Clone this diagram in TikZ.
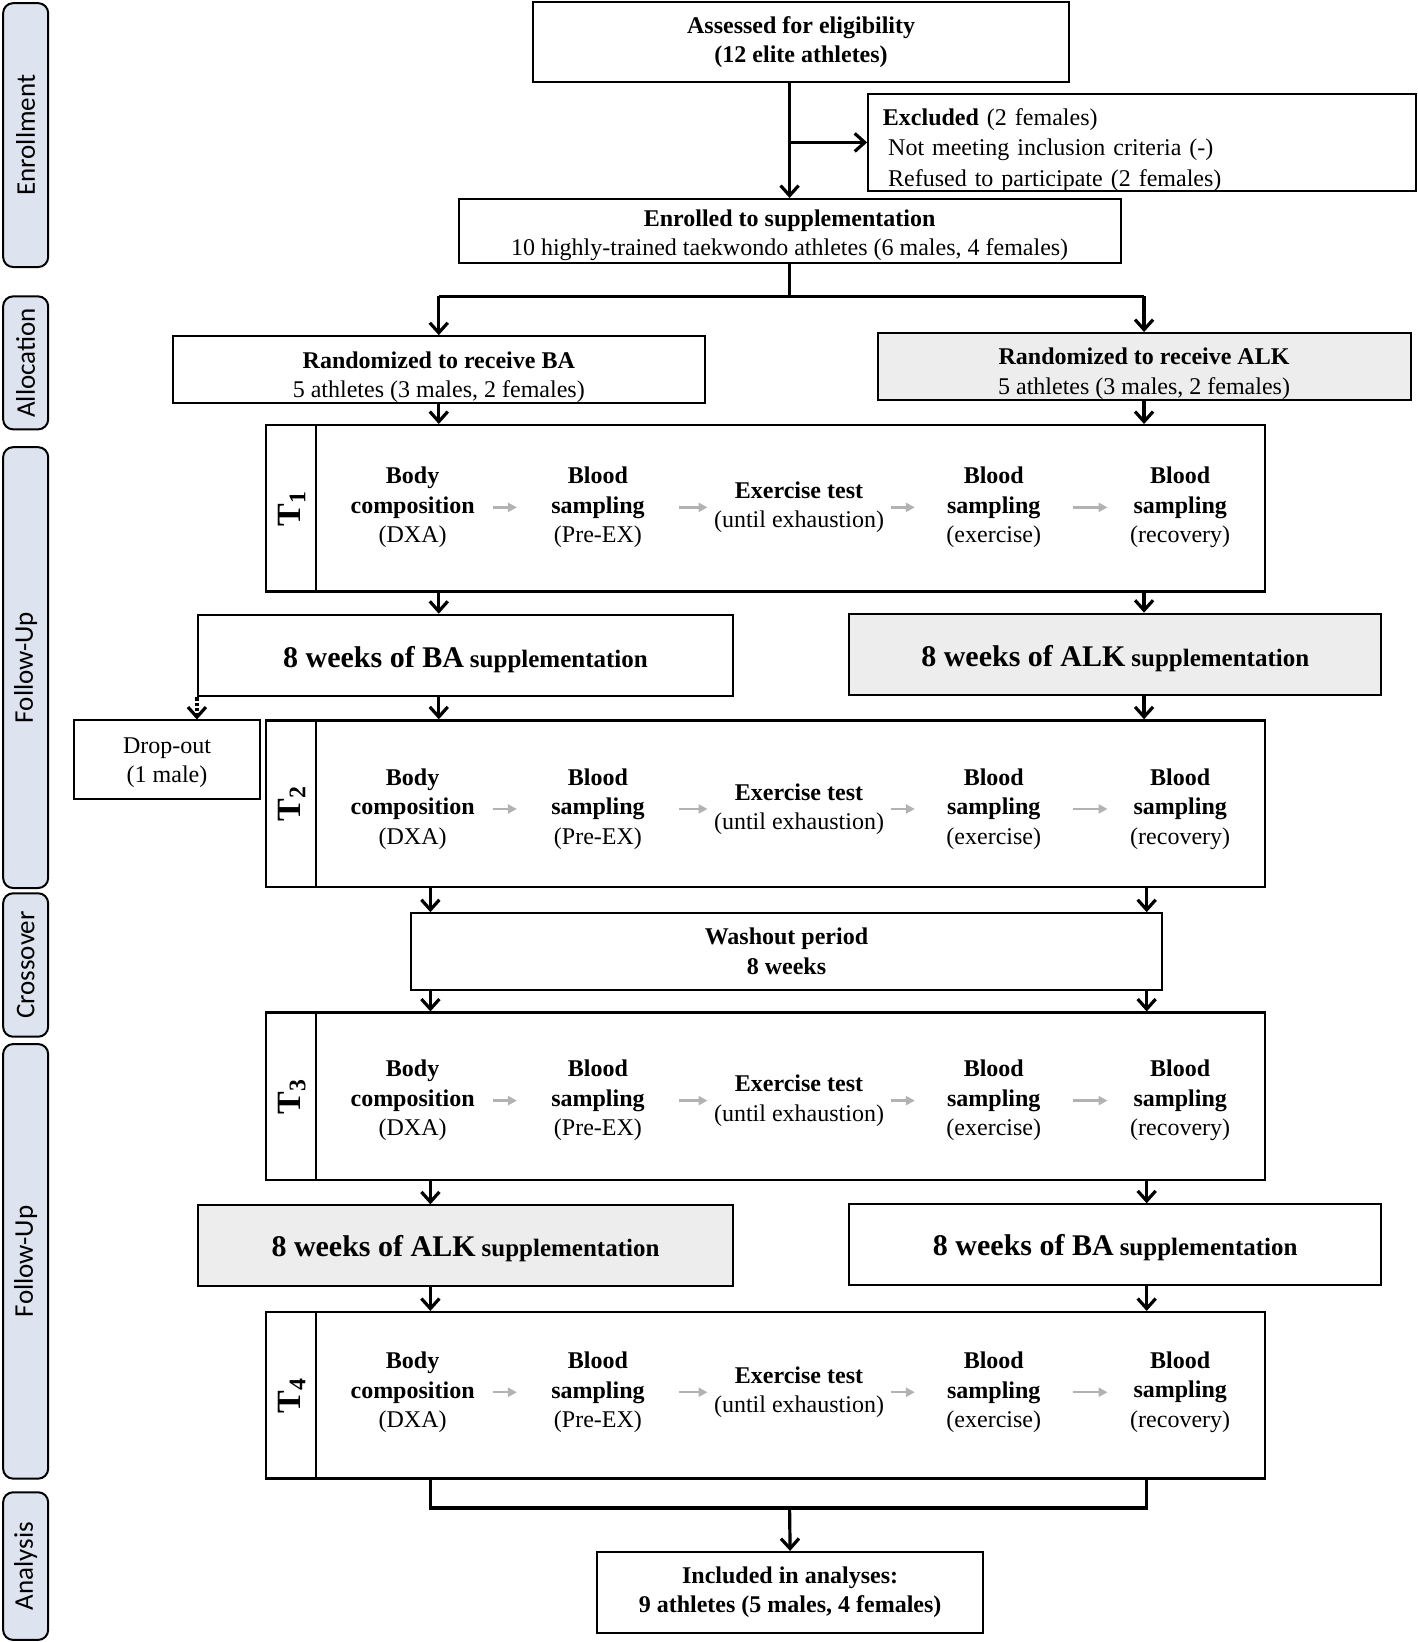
\documentclass[tikz,border=0pt]{standalone}
\usepackage{fontspec}
\setmainfont{Liberation Serif}
\newfontfamily\phasefont{Carlito}
\usetikzlibrary{arrows.meta,calc}
\definecolor{phaseblue}{RGB}{221,228,239}
\definecolor{boxgray}{RGB}{237,237,237}
\newcommand\pxu{0.5236pt}
\newcommand\weeks[1]{{\fontsize{15}{18}\selectfont\bfseries 8 weeks of #1} {\bfseries\fontsize{12.5}{15}\selectfont supplementation}}
\tikzset{
  box/.style={draw,line width=1pt,fill=white,align=center,inner sep=2pt},
  graybox/.style={box,fill=boxgray},
  wd/.style={minimum width=#1*\pxu},
  ht/.style={minimum height=#1*\pxu},
  phase/.style={draw,line width=1pt,fill=phaseblue,rounded corners=5pt,rotate=90,minimum height=43*\pxu,inner sep=0pt,font=\phasefont\fontsize{13.5}{16}\selectfont},
  tbox/.style={draw,line width=1.2pt,wd=954},
  arr/.style={line width=1.6pt,-{Straight Barb[length=5pt,width=9pt]}},
  link/.style={line width=1.6pt},
  grayarr/.style={draw=black!30,line width=1.2pt,-{Triangle[length=4.5pt,width=4.5pt]}}
}
\begin{document}
\begin{tikzpicture}[x=\pxu,y=-\pxu,font=\fontsize{12}{14.7}\selectfont]
\useasboundingbox (0,0) rectangle (1354,1568);
\node[phase,wd=252] (enroll) at (24.5,129) {Enrollment};
\node[phase,wd=127] (alloc) at (24.5,346.5) {Allocation};
\node[phase,wd=421] (follow1) at (24.5,637.5) {Follow-Up};
\node[phase,wd=137] (cross) at (24.5,921.5) {Crossover};
\node[phase,wd=415] (follow2) at (24.5,1204.5) {Follow-Up};
\node[phase,wd=141] (anal) at (24.5,1495.5) {Analysis};

\node[box,wd=512,ht=76] (assess) at (765,40) {\textbf{Assessed for eligibility}\\\textbf{(12 elite athletes)}};
\node[box,wd=523,ht=92] (excl) at (1090.5,136) {};
\node[text width=259pt,align=left,font=\fontsize{12}{15.2}\selectfont] (excltxt) at ($(excl)+(0,7)$)
  {\textbf{Excluded} (2 females)\\\hspace*{2.6pt}Not meeting inclusion criteria (-)\\\hspace*{2.6pt}Refused to participate (2 females)};
\node[box,wd=632,ht=61] (enrol) at (754,220.5) {};
\node[align=center] (enroltxt) at ($(enrol)+(0,4)$) {\textbf{Enrolled to supplementation}\\10 highly-trained taekwondo athletes (6 males, 4 females)};
\node[box,wd=508,ht=64] (rba) at (419,353) {};
\node[align=center] (rbatxt) at ($(rba)+(0,7)$) {\textbf{Randomized to receive BA}\\5 athletes (3 males, 2 females)};
\node[graybox,wd=509,ht=64] (ralk) at (1092.5,350) {};
\node[align=center] (ralktxt) at ($(ralk)+(0,7)$) {\textbf{Randomized to receive ALK}\\5 athletes (3 males, 2 females)};
\node[box,wd=511,ht=78] (w1ba) at (444.5,626) {};
\node (w1batxt) at ($(w1ba)+(0,4)$) {\weeks{BA}};
\node[graybox,wd=508,ht=78] (w1alk) at (1065,625) {};
\node (w1alktxt) at ($(w1alk)+(0,4)$) {\weeks{ALK}};
\node[box,wd=177,ht=75] (drop) at (159.5,725.5) {};
\node[align=center] (droptxt) at ($(drop)+(0,3)$) {Drop-out\\(1 male)};
\node[box,wd=718,ht=73] (wash) at (751,908.5) {\textbf{Washout period}\\\textbf{8 weeks}};
\node[graybox,wd=511,ht=77] (w2alk) at (444.5,1189.5) {};
\node (w2alktxt) at ($(w2alk)+(0,3)$) {\weeks{ALK}};
\node[box,wd=508,ht=77] (w2ba) at (1065,1188.5) {};
\node (w2batxt) at ($(w2ba)+(0,3)$) {\weeks{BA}};
\node[box,wd=369,ht=77] (incl) at (754.5,1520.5) {\textbf{Included in analyses:}\\\textbf{9 athletes (5 males, 4 females)}};

\foreach \i/\y/\h/\ty in {1/485.5/159/484.5,2/767.5/159/772.5,3/1047/160/1051,4/1332.5/159/1329.5}{
  \node[tbox,ht=\h] (t\i) at (731,\y) {};
  \draw[line width=1.2pt] ($(t\i.north west)+(49,0)$) -- ($(t\i.south west)+(49,0)$);
  \node[rotate=90,font=\fontsize{17}{18}\selectfont\bfseries] (tl\i) at (278.5,\y) {T\textsubscript{\i}};
  \foreach \j/\x/\w/\txt in {1/394/152/{\textbf{Body}\\\textbf{composition}\\(DXA)},
      2/571/154/{\textbf{Blood}\\\textbf{sampling}\\(Pre-EX)},
      3/763/174/{\textbf{Exercise test}\\(until exhaustion)},
      4/949/150/{\textbf{Blood}\\\textbf{sampling}\\(exercise)},
      5/1127/138/{\textbf{Blood}\\\textbf{sampling}\\(recovery)}}
    \node[align=center,wd=\w,inner sep=0pt] (c\i\j) at (\x,\ty) {\txt};
  \foreach \j/\k in {1/2,2/3,3/4,4/5} \draw[grayarr] (c\i\j.east) -- (c\i\k.west);
}

\coordinate (L) at (411,0);
\coordinate (R) at (1095,0);
\coordinate (split) at (754,283);
\coordinate (join) at (754,1440);
\coordinate (branch) at (assess.south -| enrol.north);

\draw[arr] (branch) -- (enrol.north);
\draw[arr] (branch |- excl.west) -- (excl.west);
\draw[link] (enrol.south) -- (split);
\draw[link] (split -| rba.north) -- (split -| ralk.north);
\draw[arr] (split -| rba.north) -- (rba.north);
\draw[arr] (split -| ralk.north) -- (ralk.north);
\draw[arr] (rba.south) -- (rba.south |- t1.north);
\draw[arr] (ralk.south) -- (ralk.south |- t1.north);
\draw[arr] (rba.south |- t1.south) -- (rba.south |- w1ba.north);
\draw[arr] (ralk.south |- t1.south) -- (ralk.south |- w1alk.north);
\draw[arr] (rba.south |- w1ba.south) -- (rba.south |- t2.north);
\draw[arr] (ralk.south |- w1alk.south) -- (ralk.south |- t2.north);
\draw[arr,densely dotted] (w1ba.south west) -- (w1ba.south west |- drop.north);
\draw[arr] (t2.south -| L) -- (wash.north -| L);
\draw[arr] (t2.south -| R) -- (wash.north -| R);
\draw[arr] (wash.south -| L) -- (t3.north -| L);
\draw[arr] (wash.south -| R) -- (t3.north -| R);
\draw[arr] (t3.south -| L) -- (w2alk.north -| L);
\draw[arr] (t3.south -| R) -- (w2ba.north -| R);
\draw[arr] (w2alk.south -| L) -- (t4.north -| L);
\draw[arr] (w2ba.south -| R) -- (t4.north -| R);
\draw[link] (t4.south -| L) |- (join) -| (t4.south -| R);
\draw[arr] (join) -- (incl.north);
\end{tikzpicture}
\end{document}
